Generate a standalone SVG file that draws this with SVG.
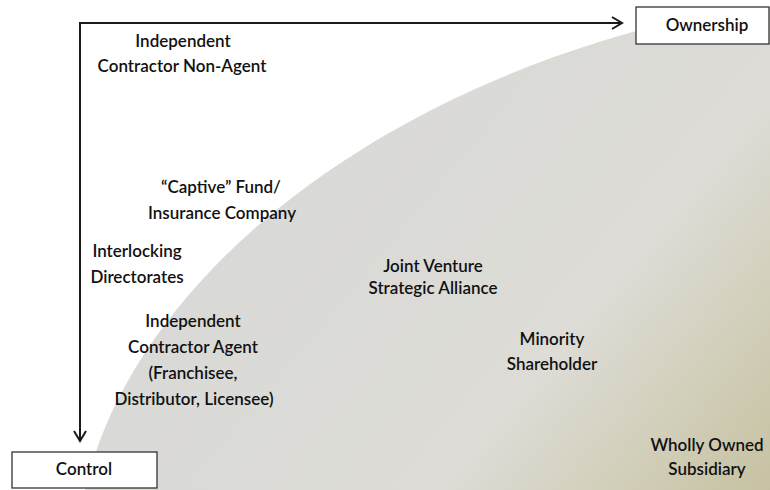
<svg xmlns="http://www.w3.org/2000/svg" width="770" height="490" viewBox="0 0 770 490">
  <defs>
    <linearGradient id="bg" gradientUnits="userSpaceOnUse" x1="330" y1="130" x2="770" y2="500">
      <stop offset="0" stop-color="#d9d9d7"/>
      <stop offset="0.55" stop-color="#dddcd6"/>
      <stop offset="0.75" stop-color="#d3d0bd"/>
      <stop offset="1" stop-color="#c6c1a0"/>
    </linearGradient>
    <marker id="chev" markerWidth="14" markerHeight="14" refX="11" refY="7" orient="auto" markerUnits="userSpaceOnUse">
      <path d="M1,1 L11,7 L1,13" fill="none" stroke="#1a1a1a" stroke-width="2"/>
    </marker>
    <style>
      text { font-family: Lato, "Open Sans", "Liberation Sans", sans-serif; font-size: 17px; font-weight: 600; fill: #111111; text-anchor: middle; }
      .box { fill: #ffffff; stroke: #333333; stroke-width: 1.3; }
      .axis { fill: none; stroke: #1a1a1a; stroke-width: 2; }
    </style>
  </defs>
  <rect x="0" y="0" width="770" height="490" fill="#ffffff"/>
  <path id="region" d="M85,490 C130,290 360,90 700,15 L770,8 L770,490 Z" fill="url(#bg)"/>

  <g id="connectors">
    <path class="axis" d="M80,440 L80,23 L622,23" marker-end="url(#chev)"/>
    <path class="axis" d="M80,23 L80,441" marker-end="url(#chev)"/>
  </g>

  <g id="ownership">
    <rect class="box" x="636" y="7" width="133" height="37"/>
    <text x="707" y="31">Ownership</text>
  </g>
  <g id="control">
    <rect class="box" x="12" y="452" width="145" height="36"/>
    <text x="84" y="475">Control</text>
  </g>
  <g id="non-agent">
    <text x="183" y="47">Independent</text>
    <text x="182" y="72">Contractor Non-Agent</text>
  </g>
  <g id="captive">
    <text x="221" y="193">“Captive” Fund/</text>
    <text x="222" y="219">Insurance Company</text>
  </g>
  <g id="interlocking">
    <text x="137" y="257">Interlocking</text>
    <text x="137" y="283">Directorates</text>
  </g>
  <g id="agent">
    <text x="193" y="327">Independent</text>
    <text x="193" y="353">Contractor Agent</text>
    <text x="193" y="379">(Franchisee,</text>
    <text x="194" y="405">Distributor, Licensee)</text>
  </g>
  <g id="joint-venture">
    <text x="433" y="272">Joint Venture</text>
    <text x="433" y="294">Strategic Alliance</text>
  </g>
  <g id="minority">
    <text x="552" y="345">Minority</text>
    <text x="552" y="370">Shareholder</text>
  </g>
  <g id="wholly-owned">
    <text x="707" y="451">Wholly Owned</text>
    <text x="707" y="475">Subsidiary</text>
  </g>
</svg>
